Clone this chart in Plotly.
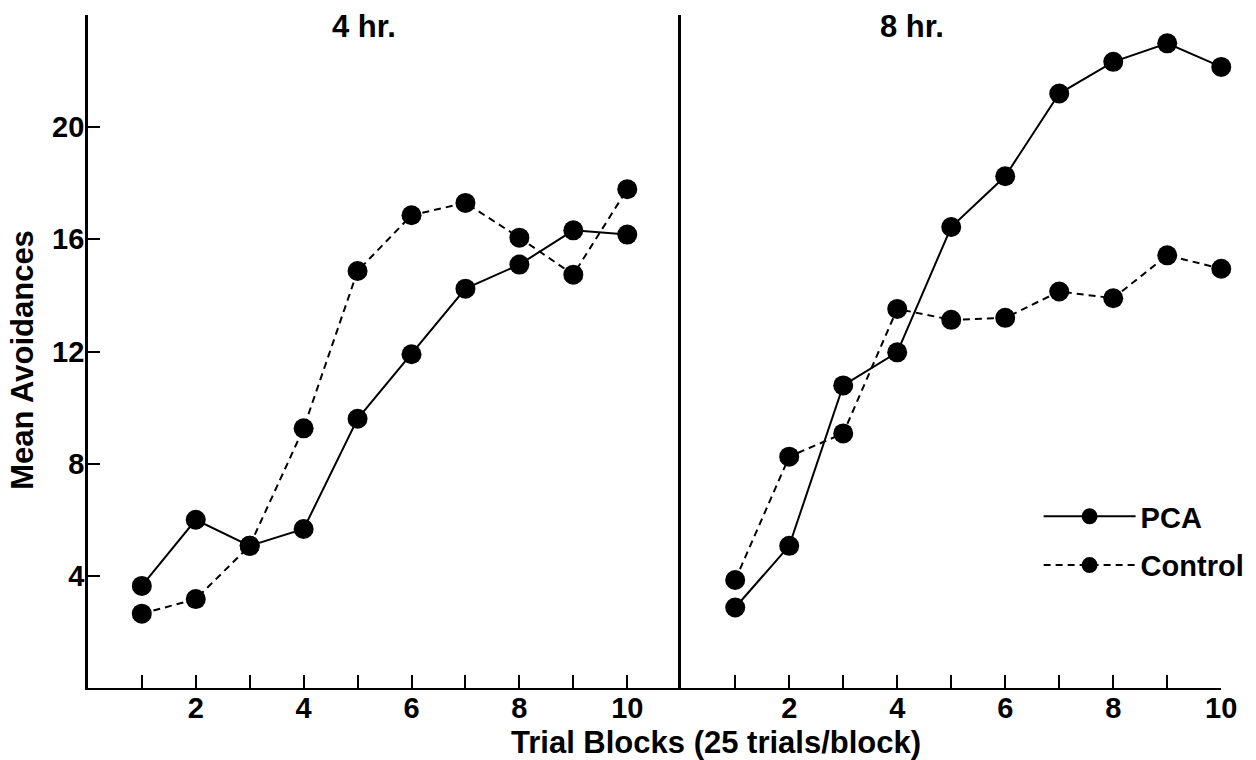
import plotly.graph_objects as go

# ---- data ----
blocks = [1, 2, 3, 4, 5, 6, 7, 8, 9, 10]
pca_4hr = [3.64, 6.0, 5.07, 5.67, 9.6, 11.9, 14.24, 15.1, 16.32, 16.17]
control_4hr = [2.65, 3.17, 5.07, 9.26, 14.87, 16.86, 17.3, 16.06, 14.74, 17.79]
pca_8hr = [2.87, 5.07, 10.79, 11.97, 16.44, 18.25, 21.2, 22.33, 22.99, 22.15]
control_8hr = [3.85, 8.25, 9.08, 13.52, 13.13, 13.2, 14.14, 13.9, 15.43, 14.95]
x_tick_text = ["", "2", "", "4", "", "6", "", "8", "", "10"]
y_tick_vals = [4, 8, 12, 16, 20]
panel_titles = ["4 hr.", "8 hr."]
series_names = ["PCA", "Control"]

W, H = 1256, 760
FONT = "Liberation Sans, Arial, Helvetica, sans-serif"
black = "#000000"

fig = go.Figure()

def add_series(x, y, name, dash, xa, ya, show):
    fig.add_trace(go.Scatter(
        x=x, y=y, name=name, mode="lines+markers",
        line=dict(color=black, width=2, dash=dash),
        marker=dict(color=black, size=20, symbol="circle"),
        xaxis=xa, yaxis=ya, showlegend=show, legendgroup=name,
        cliponaxis=False,
    ))

add_series(blocks, pca_4hr, series_names[0], "solid", "x", "y", True)
add_series(blocks, control_4hr, series_names[1], "7px,5px", "x", "y", True)
add_series(blocks, pca_8hr, series_names[0], "solid", "x2", "y2", False)
add_series(blocks, control_8hr, series_names[1], "7px,5px", "x2", "y2", False)

ydom = [1 - 688 / H, 1 - 15 / H]
tickfont = dict(family=FONT, size=29, color=black, weight="bold")

common_x = dict(
    tickvals=blocks, ticktext=x_tick_text, ticks="inside", ticklen=13,
    tickwidth=2, tickcolor=black, showline=True, linecolor=black, linewidth=2,
    showgrid=False, zeroline=False, tickfont=tickfont, fixedrange=True,
    ticklabelstandoff=-7,
)

fig.update_layout(
    width=W, height=H,
    margin=dict(l=0, r=0, t=0, b=0),
    paper_bgcolor="white", plot_bgcolor="white",
    xaxis=dict(domain=[89 / W, 690 / W], range=[0, 11], anchor="y", **common_x),
    xaxis2=dict(domain=[690 / W, 1237 / W], range=[0, 10], anchor="y2", **common_x),
    yaxis=dict(domain=ydom, range=[0, 24], anchor="x", tickvals=y_tick_vals,
               ticks="inside", ticklen=12, tickwidth=2, tickcolor=black,
               showline=True, linecolor=black, linewidth=2.5, showgrid=False,
               zeroline=False, tickfont=tickfont, fixedrange=True,
               ticklabelstandoff=-5),
    yaxis2=dict(domain=ydom, range=[0, 24], anchor="x2", showticklabels=False,
                ticks="", showline=True, linecolor=black, linewidth=2.5,
                showgrid=False, zeroline=False, fixedrange=True),
    showlegend=True,
    legend=dict(
        x=1052 / W, y=1 - 491 / H, xanchor="left", yanchor="top",
        font=dict(family=FONT, size=29, color=black, weight="bold"),
        bgcolor="rgba(0,0,0,0)", itemwidth=92, tracegroupgap=8,
    ),
    annotations=[
        dict(text=panel_titles[0], x=369 / W, y=1 - 27 / H, xref="paper", yref="paper",
             showarrow=False, xanchor="center", yanchor="middle",
             font=dict(family=FONT, size=31, color=black, weight="bold")),
        dict(text=panel_titles[1], x=924 / W, y=1 - 27 / H, xref="paper", yref="paper",
             showarrow=False, xanchor="center", yanchor="middle",
             font=dict(family=FONT, size=31, color=black, weight="bold")),
        dict(text="Trial Blocks (25 trials/block)", x=725 / W, y=1 - 742 / H,
             xref="paper", yref="paper", showarrow=False, xanchor="center",
             yanchor="middle",
             font=dict(family=FONT, size=31, color=black, weight="bold")),
        dict(text="Mean Avoidances", x=23 / W, y=1 - 360 / H, xref="paper",
             yref="paper", showarrow=False, xanchor="center", yanchor="middle",
             textangle=-90,
             font=dict(family=FONT, size=31, color=black, weight="bold")),
    ],
)

fig.write_html("out.html")
